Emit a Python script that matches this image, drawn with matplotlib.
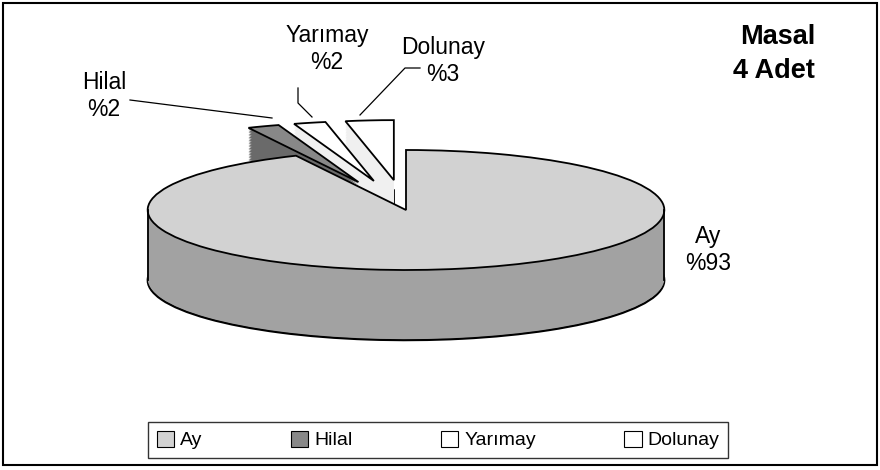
import matplotlib.pyplot as plt
import numpy as np
from matplotlib.patches import Patch, Rectangle

plt.rcParams['font.family'] = ['Liberation Sans', 'DejaVu Sans']

# data
labels = ["Ay", "Hilal", "Yarımay", "Dolunay"]
values = [93, 2, 2, 3]
pct_labels = ["%93", "%2", "%2", "%3"]
explode = [0.0, 0.5, 0.5, 0.5]
title = "Masal\n4 Adet"

top_colors = ["#d2d2d2", "#888888", "#ffffff", "#ffffff"]
side_colors = ["#a2a2a2", "#6a6a6a", "#f0f0f0", "#f0f0f0"]

fig = plt.figure(figsize=(8.8, 4.7), dpi=100)

# pie axes: 1 unit = 258 px in x, 60 px in y (flattened look)
ax = fig.add_axes([18.5 / 880, 80 / 470, 775 / 880, 360 / 470])
depth = 1.17
n_layers = 45
for i, dy in enumerate(np.linspace(-depth, 0, n_layers, endpoint=False)):
    if i == 0:
        wp = dict(edgecolor="black", linewidth=1.5)
    else:
        wp = dict(edgecolor="none", linewidth=0)
    ax.pie(values, startangle=90, counterclock=False, explode=explode,
           center=(0, dy), radius=1, frame=True, colors=side_colors,
           wedgeprops=wp)
ax.pie(values, startangle=90, counterclock=False, explode=explode,
       center=(0, 0), radius=1, frame=True, colors=top_colors,
       wedgeprops=dict(edgecolor="black", linewidth=1.3))
# vertical edges of the cylinder
ax.plot([-1, -1], [-depth, 0], color="black", lw=1.3)
ax.plot([1, 1], [-depth, 0], color="black", lw=1.3)
ax.set_xlim(-1.5, 1.5)
ax.set_ylim(-3, 3)
ax.set_aspect("auto")
ax.axis("off")

# overlay in pixel coordinates for labels and leader lines
ov = fig.add_axes([0, 0, 1, 1])
ov.set_xlim(0, 880)
ov.set_ylim(470, 0)
ov.axis("off")

fs = 16.5
ov.text(708, 250, labels[0] + "\n" + pct_labels[0], ha="center", va="center",
        fontsize=fs)
ov.text(104, 96, labels[1] + "\n" + pct_labels[1], ha="center", va="center",
        fontsize=fs)
ov.text(327, 49, labels[2] + "\n" + pct_labels[2], ha="center", va="center",
        fontsize=fs)
ov.text(443, 61, labels[3] + "\n" + pct_labels[3], ha="center", va="center",
        fontsize=fs)

ov.plot([130, 272], [100, 118], color="black", lw=0.9)
ov.plot([298, 298, 312], [88, 103, 117], color="black", lw=0.9)
ov.plot([420, 405, 360], [68, 68, 115], color="black", lw=0.9)

ov.text(815, 54, title, ha="right", va="center", fontsize=19.5,
        fontweight="bold", linespacing=1.4)

# outer border
ov.add_patch(Rectangle((3, 3), 874, 462, fill=False, edgecolor="black", lw=1.5))

handles = [Patch(facecolor=c, edgecolor="black", lw=0.8) for c in top_colors]
leg = fig.legend(handles, labels, loc="center", ncol=4, mode="expand",
                 bbox_to_anchor=(148 / 880, 12 / 470, 580 / 880, 36 / 470),
                 fontsize=14, frameon=True, fancybox=False, edgecolor="black",
                 handlelength=0.9, handleheight=0.9, handletextpad=0.3,
                 borderaxespad=0, borderpad=0.45)
leg.get_frame().set_linewidth(1.0)

fig.savefig("out.png", dpi=100)
